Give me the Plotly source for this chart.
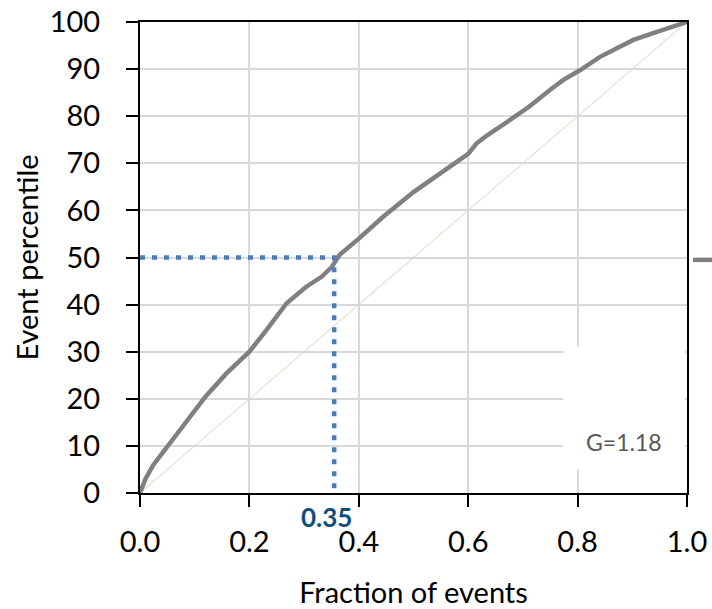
import plotly.graph_objects as go

# Lorenz-like curve data (fraction of events vs event percentile)
frac = [0, 0.01, 0.024, 0.049, 0.09, 0.12, 0.158, 0.2, 0.231, 0.268, 0.304, 0.332,
        0.35, 0.365, 0.4, 0.444, 0.5, 0.53, 0.573, 0.6, 0.615, 0.634, 0.67, 0.71, 0.75,
        0.774, 0.805, 0.841, 0.87, 0.902, 0.945, 0.975, 1.0]
pct = [0, 3.0, 5.9, 9.6, 16.0, 20.5, 25.4, 30.0, 34.6, 40.3, 43.8, 45.9,
       47.9, 50.6, 54.0, 58.6, 63.9, 66.4, 69.9, 72.0, 74.2, 75.9, 78.7, 81.9, 85.6,
       87.7, 89.8, 92.6, 94.3, 96.2, 97.9, 99.0, 100]

diag_x = [0, 1]
diag_y = [0, 100]

median_x = 0.355
median_y = 50
median_label = "0.35"
gini_label = "G=1.18"

xticks = [0.0, 0.2, 0.4, 0.6, 0.8, 1.0]
yticks = list(range(0, 101, 10))

FONT = "Lato"

fig = go.Figure()
fig.add_trace(go.Scatter(x=diag_x, y=diag_y, mode="lines",
                         line=dict(color="#d9d3bd", width=1), showlegend=False))
fig.add_trace(go.Scatter(x=frac, y=pct, mode="lines",
                         line=dict(color="#808080", width=4.5), showlegend=False))
fig.add_trace(go.Scatter(x=[0, median_x, median_x], y=[median_y, median_y, 0], mode="lines",
                         line=dict(color="#4a7ebb", width=4.5, dash="5px,7px"),
                         showlegend=False, cliponaxis=False))

# white box hiding gridlines behind the G label
fig.add_shape(type="rect", xref="x", yref="y", x0=0.774, x1=0.996, y0=5.1, y1=31.0,
              fillcolor="white", line=dict(width=0), layer="above")
fig.add_annotation(x=0.885, y=10.8, xref="x", yref="y", text=gini_label, showarrow=False,
                   font=dict(family=FONT, size=23, color="#595959"))
fig.add_annotation(x=median_x, y=0, xref="x", yref="y", yshift=-24, xshift=-8,
                   text="<b>" + median_label + "</b>",
                   showarrow=False, font=dict(family=FONT, size=26, color="#114f7a"))
# cut-off legend line at right edge
fig.add_shape(type="line", xref="paper", yref="paper", x0=1.011, x1=1.05, y0=0.495, y1=0.495,
              line=dict(color="#808080", width=4.5))

fig.update_xaxes(range=[0, 1], tickvals=xticks, ticktext=[f"{v:.1f}" for v in xticks],
                 showgrid=True, gridcolor="#d9d9d9", gridwidth=1.5,
                 showline=True, linecolor="black", linewidth=2, mirror=True,
                 ticks="outside", ticklen=12, tickwidth=2, tickcolor="black",
                 ticklabelstandoff=10, zeroline=False,
                 tickfont=dict(family=FONT, size=29, color="black"),
                 title=dict(text="Fraction of events", standoff=29,
                            font=dict(family=FONT, size=29, color="black")))
fig.update_yaxes(range=[0, 100], tickvals=yticks,
                 showgrid=True, gridcolor="#d9d9d9", gridwidth=1.5,
                 showline=True, linecolor="black", linewidth=2, mirror=True,
                 ticks="outside", ticklen=12, tickwidth=2, tickcolor="black",
                 ticklabelstandoff=20, zeroline=False,
                 tickfont=dict(family=FONT, size=29, color="black"),
                 title=dict(text="Event percentile", standoff=3,
                            font=dict(family=FONT, size=29, color="black")))

fig.update_layout(width=712, height=609, margin=dict(l=140, r=25, t=22, b=116, autoexpand=False),
                  plot_bgcolor="white", paper_bgcolor="white", showlegend=False,
                  font=dict(family=FONT))

fig.write_html("out.html")
